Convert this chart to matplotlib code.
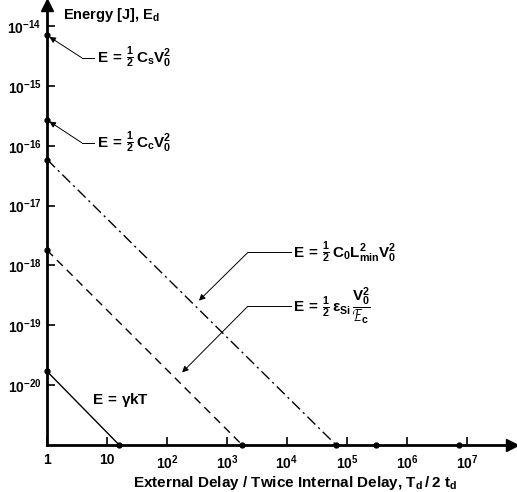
import numpy as np
import matplotlib.pyplot as plt

plt.rcParams.update({
    "font.family": "Liberation Sans",
    "font.weight": "bold",
    "mathtext.fontset": "custom",
    "mathtext.rm": "Liberation Sans:bold",
    "mathtext.bf": "Liberation Sans:bold",
    "mathtext.it": "Liberation Sans:bold",
    "mathtext.default": "bf",
    "mathtext.fallback": "stixsans",
})

# lines E(T) falling from the y-axis to the floor, slope -1
line_labels = [r"$E\,=\,\frac{1}{2}\,C_0L_{min}^2V_0^2$",
               r"$E\,=\,\frac{1}{2}\,\varepsilon_{Si}\,\dfrac{V_0^2}{\mathcal{E}_c}$",
               r"$E\,=\,\gamma kT$"]
e_start = [5.9e-17, 1.8e-18, 1.7e-20]
t_end = [6.6e4, 1.8e3, 16]
line_dashes = [(8, 3, 1.5, 3), (6, 4), ()]

# points on the energy axis
axis_labels = [r"$E\,=\,\frac{1}{2}\,C_sV_0^2$", r"$E\,=\,\frac{1}{2}\,C_cV_0^2$"]
e_axis = [7e-15, 2.7e-16]

# extra points on the delay axis
t_axis = [3e5, 7.4e6]

e_floor = 1e-21
x_ticks = [1, 10, 1e2, 1e3, 1e4, 1e5, 1e6, 1e7]
x_ticklabels = ["1", "10", "$10^2$", "$10^3$", "$10^4$", "$10^5$", "$10^6$", "$10^7$"]
y_ticks = [1e-20, 1e-19, 1e-18, 1e-17, 1e-16, 1e-15, 1e-14]
y_ticklabels = ["$10^{-20}$", "$10^{-19}$", "$10^{-18}$", "$10^{-17}$",
                "$10^{-16}$", "$10^{-15}$", "$10^{-14}$"]

fig = plt.figure(figsize=(5.17, 4.92), dpi=100)
ax = fig.add_axes([0.091, 0.0955, 0.899, 0.894])
ax.set_xscale("log")
ax.set_yscale("log")
xmax = 10 ** 7.75
ymax = 10 ** -13.65
ax.set_xlim(1, xmax)
ax.set_ylim(e_floor, ymax)

for sp in ["top", "right"]:
    ax.spines[sp].set_visible(False)
for sp in ["left", "bottom"]:
    ax.spines[sp].set_linewidth(2.0)

# arrow heads on the axes
ax.plot(0, 1, marker="^", color="black", markersize=9, clip_on=False,
        transform=ax.transAxes)
ax.plot(1, 0, marker=">", color="black", markersize=9, clip_on=False,
        transform=ax.transAxes)

for e0, t1, dash in zip(e_start, t_end, line_dashes):
    ln, = ax.plot([1, t1], [e0, e_floor], color="black", linewidth=1.0)
    if dash:
        ln.set_dashes(dash)
    ax.plot([1, t1], [e0, e_floor], "o", color="black", markersize=3.5, clip_on=False)

ax.plot([1] * len(e_axis), e_axis, "o", color="black", markersize=3.5, clip_on=False)
ax.plot(t_axis, [e_floor] * len(t_axis), "o", color="black", markersize=3.5, clip_on=False)

ax.set_xticks(x_ticks)
ax.set_xticklabels(x_ticklabels)
ax.set_yticks(y_ticks)
ax.set_yticklabels(y_ticklabels)
ax.minorticks_off()
ax.tick_params(direction="in", length=6, width=1.2, labelsize=10, pad=6)
ax.tick_params(axis="y", pad=4)

arrow = dict(arrowstyle="-|>", color="black", lw=0.7, mutation_scale=9,
             shrinkA=0, shrinkB=2)


def leader(tip, knee, x_text, label):
    # diagonal arrow to the mark, short horizontal run, then the formula
    ax.annotate("", xy=tip, xytext=knee, arrowprops=arrow)
    ax.plot([knee[0], x_text / 10 ** 0.04], [knee[1], knee[1]], color="black", lw=0.7)
    ax.text(x_text, knee[1], label, fontsize=11, va="center", ha="left")


leader((1, e_axis[0]), (10 ** 0.58, 10 ** -14.53), 10 ** 0.83, axis_labels[0])
leader((1, e_axis[1]), (10 ** 0.58, 10 ** -15.95), 10 ** 0.83, axis_labels[1])
leader((10 ** 2.5, 10 ** -18.62), (10 ** 3.35, 10 ** -17.78), 10 ** 4.1, line_labels[0])
leader((10 ** 2.22, 10 ** -19.82), (10 ** 3.35, 10 ** -18.68), 10 ** 4.1, line_labels[1])
ax.text(10 ** 0.75, 10 ** -20.25, line_labels[2], fontsize=11, va="center", ha="left")

fig.text(0.122, 0.97, "Energy [J], $E_d$", fontsize=10.5, va="center", ha="left")
fig.text(0.57, 0.018, "External Delay / Twice Internal Delay, $T_d\\,/\\,2\\ t_d$",
         fontsize=11, va="center", ha="center")

fig.savefig("out.png", dpi=100)
